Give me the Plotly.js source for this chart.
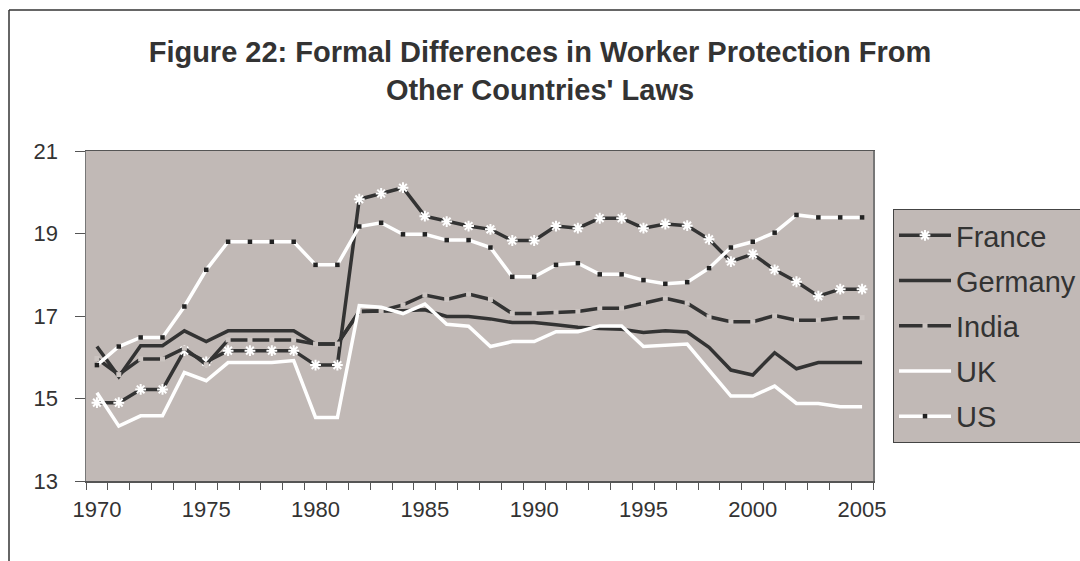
<!DOCTYPE html>
<html>
<head>
<meta charset="utf-8">
<script src="https://cdn.plot.ly/plotly-3.0.1.min.js"></script>
<style>html,body{margin:0;padding:0;background:#fff;}#chart{width:1080px;height:561px;}</style>
</head>
<body>
<div id="chart"></div>
<script>
const years = [1970,1971,1972,1973,1974,1975,1976,1977,1978,1979,1980,1981,1982,1983,1984,1985,1986,1987,1988,1989,1990,1991,1992,1993,1994,1995,1996,1997,1998,1999,2000,2001,2002,2003,2004,2005];
const tickYears = [1970,1975,1980,1985,1990,1995,2000,2005];
const france = [14.90,14.90,15.22,15.22,16.16,15.89,16.16,16.16,16.16,16.16,15.81,15.81,19.83,19.97,20.11,19.42,19.29,19.18,19.10,18.83,18.83,19.18,19.13,19.37,19.37,19.13,19.23,19.19,18.86,18.32,18.50,18.12,17.83,17.48,17.65,17.65];
const germany = [16.26,15.53,16.28,16.28,16.64,16.38,16.64,16.64,16.64,16.64,16.32,16.32,17.11,17.11,17.13,17.15,16.99,16.99,16.93,16.84,16.84,16.79,16.73,16.70,16.68,16.60,16.64,16.61,16.24,15.69,15.57,16.11,15.72,15.87,15.87,15.87];
const india = [15.97,15.58,15.96,15.96,16.22,15.82,16.42,16.42,16.42,16.42,16.32,16.32,17.11,17.13,17.27,17.51,17.40,17.53,17.40,17.06,17.06,17.09,17.11,17.19,17.19,17.31,17.43,17.31,16.98,16.86,16.86,17.01,16.90,16.90,16.96,16.96];
const uk = [15.14,14.33,14.58,14.58,15.63,15.43,15.87,15.87,15.87,15.92,14.54,14.54,17.25,17.21,17.06,17.29,16.80,16.75,16.26,16.38,16.38,16.62,16.62,16.76,16.76,16.26,16.28,16.32,15.69,15.06,15.06,15.30,14.88,14.88,14.80,14.80];
const us = [15.81,16.26,16.48,16.48,17.23,18.12,18.80,18.80,18.80,18.80,18.24,18.24,19.17,19.26,18.98,18.98,18.84,18.84,18.66,17.95,17.95,18.24,18.28,18.01,18.01,17.87,17.78,17.82,18.16,18.66,18.80,19.02,19.45,19.39,19.39,19.39];
const seriesNames = ['France','Germany','India','UK','US'];

const DARK = '#333333';
const WHITE = '#ffffff';
const BG = '#c1b9b6';
const FONT = 'Liberation Sans, Arial, sans-serif';

const W = 1080, H = 561;
const M = {l: 86, r: 207, t: 151, b: 80, autoexpand: false};
const pw = W - M.l - M.r, ph = H - M.t - M.b;
const px2x = p => (p - M.l) / pw;
const py2y = p => (H - M.b - p) / ph;

const traces = [
  {x: years, y: france, name: seriesNames[0], legendgroup: 'a', mode: 'lines+markers',
   line: {color: DARK, width: 3.5},
   marker: {symbol: 'asterisk-open', size: 9, color: WHITE, line: {color: WHITE, width: 2}}},
  {x: years, y: germany, name: seriesNames[1], legendgroup: 'b', mode: 'lines',
   line: {color: DARK, width: 3.5}},
  {x: years, y: india, name: seriesNames[2], legendgroup: 'c', mode: 'lines+markers',
   line: {color: DARK, width: 3.5},
   marker: {symbol: 'square', size: 5, color: '#cbc4c1', line: {width: 0}}},
  {x: years, y: uk, name: seriesNames[3], legendgroup: 'd', mode: 'lines',
   line: {color: WHITE, width: 3.5}},
  {x: years, y: us, name: seriesNames[4], legendgroup: 'e', mode: 'lines+markers',
   line: {color: WHITE, width: 3.5},
   marker: {symbol: 'square', size: 4.5, color: '#222222', line: {width: 0}}}
];

const layout = {
  width: W, height: H,
  margin: M,
  paper_bgcolor: '#ffffff',
  plot_bgcolor: BG,
  font: {family: FONT, color: '#333333', size: 22},
  title: {
    text: "<b>Figure 22: Formal Differences in Worker Protection From<br>Other Countries' Laws</b>",
    font: {family: FONT, size: 29, color: '#333333'},
    x: 0.5, xref: 'container', xanchor: 'center',
    y: 1 - 62 / H, yref: 'container', yanchor: 'middle'
  },
  showlegend: true,
  legend: {
    x: px2x(893), y: py2y(209), xanchor: 'left', yanchor: 'top',
    bgcolor: BG, bordercolor: '#444444', borderwidth: 1,
    font: {family: FONT, size: 29, color: '#333333'},
    tracegroupgap: 4.5, itemwidth: 52
  },
  xaxis: {
    range: [1969.5, 2005.5],
    tickmode: 'array', tickvals: tickYears, ticktext: tickYears.map(String),
    ticks: '', showgrid: false, zeroline: false,
    showline: true, linecolor: '#555555', linewidth: 1.5, mirror: true,
    ticklabelstandoff: 8,
    tickfont: {family: FONT, size: 22, color: '#333333'},
    minor: {tickmode: 'linear', tick0: 1969.5, dtick: 1, ticks: 'outside', ticklen: 7, tickcolor: '#555555', tickwidth: 1, showgrid: false}
  },
  yaxis: {
    range: [13, 21], tickmode: 'linear', tick0: 13, dtick: 2,
    ticks: 'outside', ticklen: 10, tickcolor: '#555555', tickwidth: 1,
    showgrid: false, zeroline: false,
    showline: true, linecolor: '#777777', linewidth: 1.5, mirror: true,
    ticklabelstandoff: 12,
    tickfont: {family: FONT, size: 22, color: '#333333'}
  },
  shapes: [
    {type: 'line', xref: 'paper', yref: 'paper', x0: px2x(9), x1: px2x(1085), y0: py2y(10), y1: py2y(10), line: {color: '#333333', width: 1.5}},
    {type: 'line', xref: 'paper', yref: 'paper', x0: px2x(9), x1: px2x(9), y0: py2y(10), y1: py2y(570), line: {color: '#333333', width: 1.5}}
  ]
};

Plotly.newPlot('chart', traces, layout, {displayModeBar: false, staticPlot: true});
</script>
</body>
</html>
